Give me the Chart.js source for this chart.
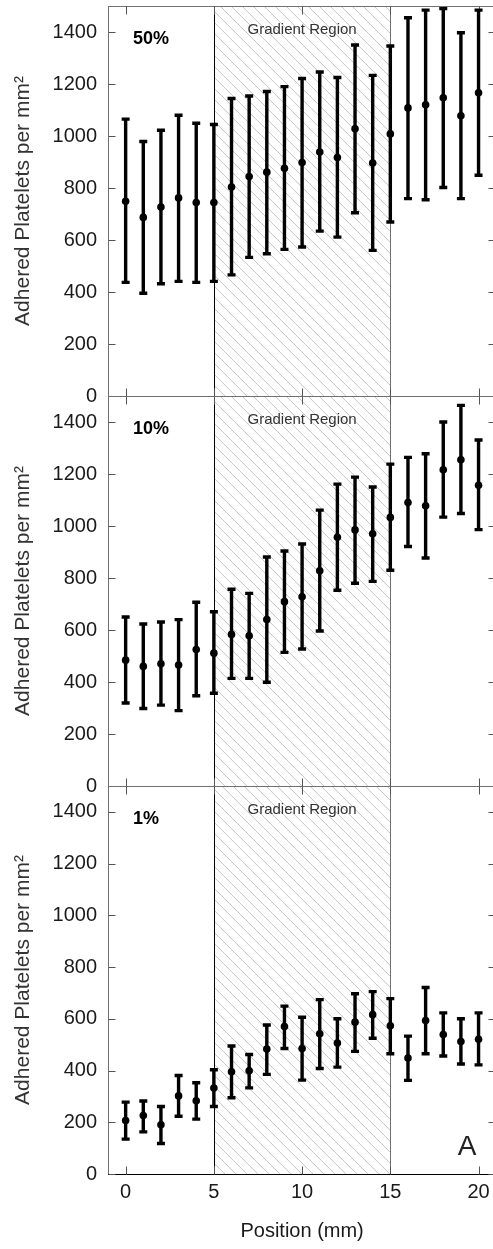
<!DOCTYPE html>
<html>
<head>
<meta charset="utf-8">
<script src="https://cdn.jsdelivr.net/npm/chart.js@4"></script>
<style>
  html, body { margin: 0; padding: 0; background: #fff; overflow: hidden; }
  body { width: 493px; height: 1249px; position: relative; }
  canvas { position: absolute; left: 0; }
</style>
</head>
<body>
<canvas id="c50" width="500" height="410" style="top:0"></canvas>
<canvas id="c10" width="500" height="410" style="top:390px"></canvas>
<canvas id="c1" width="500" height="469" style="top:780px"></canvas>
<script>
// position along the channel (mm)
const positions = [0, 1, 2, 3, 4, 5, 6, 7, 8, 9, 10, 11, 12, 13, 14, 15, 16, 17, 18, 19, 20]
const xTicks = [0, 5, 10, 15, 20]
const yTicks = [0, 200, 400, 600, 800, 1000, 1200, 1400]
const gradientStart = 5
const gradientEnd = 15

// 50%
const mean50 = [749, 687, 727, 762, 744, 744, 804, 844, 861, 876, 898, 938, 917, 1028, 896, 1008, 1108, 1120, 1147, 1078, 1166]
const low50  = [437, 395, 432, 441, 437, 441, 466, 533, 547, 564, 573, 634, 611, 705, 560, 669, 759, 755, 802, 759, 849]
const high50 = [1065, 979, 1022, 1080, 1049, 1044, 1144, 1154, 1171, 1190, 1221, 1246, 1225, 1350, 1233, 1346, 1455, 1484, 1490, 1397, 1484]

// 10%
const mean10 = [484, 460, 470, 465, 525, 511, 583, 578, 640, 709, 728, 828, 957, 985, 970, 1033, 1090, 1078, 1216, 1255, 1157]
const low10  = [319, 298, 311, 290, 347, 357, 414, 414, 399, 514, 527, 596, 753, 780, 787, 830, 921, 877, 1034, 1048, 986]
const high10 = [650, 623, 631, 640, 707, 670, 757, 741, 881, 904, 931, 1061, 1161, 1188, 1150, 1238, 1264, 1278, 1400, 1464, 1331]

// 1%
const mean1 = [207, 226, 190, 302, 283, 332, 395, 399, 483, 570, 485, 542, 506, 587, 616, 573, 448, 593, 539, 512, 521]
const low1  = [135, 163, 118, 223, 212, 261, 295, 333, 385, 485, 363, 408, 413, 474, 525, 465, 362, 465, 456, 425, 422]
const high1 = [278, 282, 261, 381, 353, 403, 495, 462, 576, 649, 606, 674, 600, 697, 705, 678, 533, 721, 623, 600, 623]

const FONT = "'Liberation Sans', Arial, sans-serif"

// hatched gradient band, frame, inward ticks
const panelBack = {
  id: 'panelBack',
  beforeDatasetsDraw(chart, args, opts) {
    const {ctx, chartArea: a, scales: {x, y}} = chart
    const xs = x.getPixelForValue(gradientStart)
    const xe = x.getPixelForValue(gradientEnd)
    const h = a.bottom - a.top
    ctx.save()
    ctx.beginPath()
    ctx.rect(xs, a.top, xe - xs, h)
    ctx.clip()
    ctx.strokeStyle = '#c4c4c4'
    ctx.lineWidth = 1
    ctx.beginPath()
    for (let s = xs - h; s < xe; s += 11) {
      ctx.moveTo(s, a.top)
      ctx.lineTo(s + h, a.bottom)
    }
    ctx.stroke()
    ctx.restore()

    ctx.save()
    ctx.lineWidth = 1
    const line = (x1, y1, x2, y2, c) => {
      ctx.strokeStyle = c
      ctx.beginPath()
      ctx.moveTo(x1, y1)
      ctx.lineTo(x2, y2)
      ctx.stroke()
    }
    line(Math.round(xs) + 0.5, a.top, Math.round(xs) + 0.5, a.bottom, '#000')
    line(Math.round(xe) + 0.5, a.top, Math.round(xe) + 0.5, a.bottom, '#707070')
    const L = Math.round(a.left) + 0.5, R = Math.round(a.right) - 0.5
    const T = Math.round(a.top) + 0.5, B = Math.round(a.bottom) + 0.5
    line(L, a.top, L, a.bottom, '#707070')
    line(R, a.top, R, a.bottom, '#707070')
    line(a.left, T, a.right, T, '#707070')
    line(a.left, B, a.right, B, opts.bottomColor || '#707070')
    yTicks.forEach(v => {
      const py = Math.round(y.getPixelForValue(v)) + 0.5
      line(L, py, L + 7, py, '#555')
      line(R - 7, py, R, py, '#555')
    })
    xTicks.forEach(v => {
      const px = Math.round(x.getPixelForValue(v)) + 0.5
      line(px, B - 8, px, B, '#555')
      line(px, T, px, T + 8, '#555')
    })
    ctx.restore()
  },
  afterDatasetsDraw(chart, args, opts) {
    const {ctx, chartArea: a, scales: {x}} = chart
    ctx.save()
    ctx.fillStyle = '#000'
    ctx.textBaseline = 'middle'
    ctx.textAlign = 'left'
    ctx.font = 'bold 18px ' + FONT
    ctx.fillText(opts.label, a.left + 25, a.top + 33)
    ctx.fillStyle = '#333'
    ctx.textAlign = 'center'
    ctx.font = '15px ' + FONT
    ctx.fillText('Gradient Region', x.getPixelForValue((gradientStart + gradientEnd) / 2), a.top + 24)
    if (opts.corner) {
      ctx.fillStyle = '#222'
      ctx.font = '28px ' + FONT
      ctx.fillText(opts.corner, a.right - 29, a.bottom - 27)
    }
    ctx.restore()
  }
}

// vertical error bars with caps, drawn through the scales
const errorBars = {
  id: 'errorBars',
  beforeDatasetsDraw(chart) {
    const {ctx, scales: {x, y}} = chart
    const ds = chart.data.datasets[0]
    ctx.save()
    ctx.strokeStyle = '#000'
    ctx.lineWidth = 3.4
    ds.errLow.forEach((lo, i) => {
      const px = x.getPixelForValue(positions[i])
      const pLo = y.getPixelForValue(lo)
      const pHi = y.getPixelForValue(ds.errHigh[i])
      ctx.beginPath()
      ctx.moveTo(px, pLo)
      ctx.lineTo(px, pHi)
      ctx.moveTo(px - 4, pLo)
      ctx.lineTo(px + 4, pLo)
      ctx.moveTo(px - 4, pHi)
      ctx.lineTo(px + 4, pHi)
      ctx.stroke()
    })
    ctx.restore()
  }
}

function panel(id, mean, low, high, label, last) {
  const canvas = document.getElementById(id)
  return new Chart(canvas, {
    type: 'scatter',
    data: {
      datasets: [{
        data: positions.map((p, i) => ({x: p, y: mean[i]})),
        errLow: low,
        errHigh: high,
        backgroundColor: '#000',
        borderColor: '#000',
        pointRadius: 3.8,
        pointHoverRadius: 3.8,
        borderWidth: 0
      }]
    },
    options: {
      responsive: false,
      animation: false,
      devicePixelRatio: 1,
      layout: {
        padding: {left: 0, right: 3, top: 6, bottom: last ? 0 : 14}
      },
      scales: {
        x: {
          type: 'linear',
          min: -1,
          max: 21,
          afterBuildTicks: s => { s.ticks = xTicks.map(v => ({value: v})) },
          afterFit: s => {
            s.height = last ? 75 : 0
            s.paddingLeft = 0
            s.paddingRight = 0
          },
          grid: {display: false, drawTicks: false},
          border: {display: false},
          ticks: {
            display: last,
            padding: 6,
            color: '#1a1a1a',
            font: {family: FONT, size: 20}
          },
          title: {
            display: last,
            text: 'Position (mm)',
            color: '#1a1a1a',
            padding: {top: 0, bottom: 6},
            font: {family: FONT, size: 20}
          }
        },
        y: {
          type: 'linear',
          min: 0,
          max: 1500,
          afterBuildTicks: s => { s.ticks = yTicks.map(v => ({value: v})) },
          afterFit: s => {
            s.width = 108
            s.paddingTop = 0
            s.paddingBottom = 0
          },
          grid: {display: false, drawTicks: false},
          border: {display: false},
          ticks: {
            padding: 11,
            color: '#1a1a1a',
            font: {family: FONT, size: 20},
            callback: v => String(v)
          },
          title: {
            display: true,
            text: 'Adhered Platelets per mm²',
            color: '#333',
            padding: {top: 11, bottom: 0},
            font: {family: FONT, size: 21}
          }
        }
      },
      plugins: {
        legend: {display: false},
        tooltip: {enabled: false},
        panelBack: {label: label, corner: last ? 'A' : null, bottomColor: last ? '#000' : '#707070'}
      }
    },
    plugins: [panelBack, errorBars]
  })
}

panel('c50', mean50, low50, high50, '50%', false)
panel('c10', mean10, low10, high10, '10%', false)
panel('c1', mean1, low1, high1, '1%', true)
</script>
</body>
</html>
